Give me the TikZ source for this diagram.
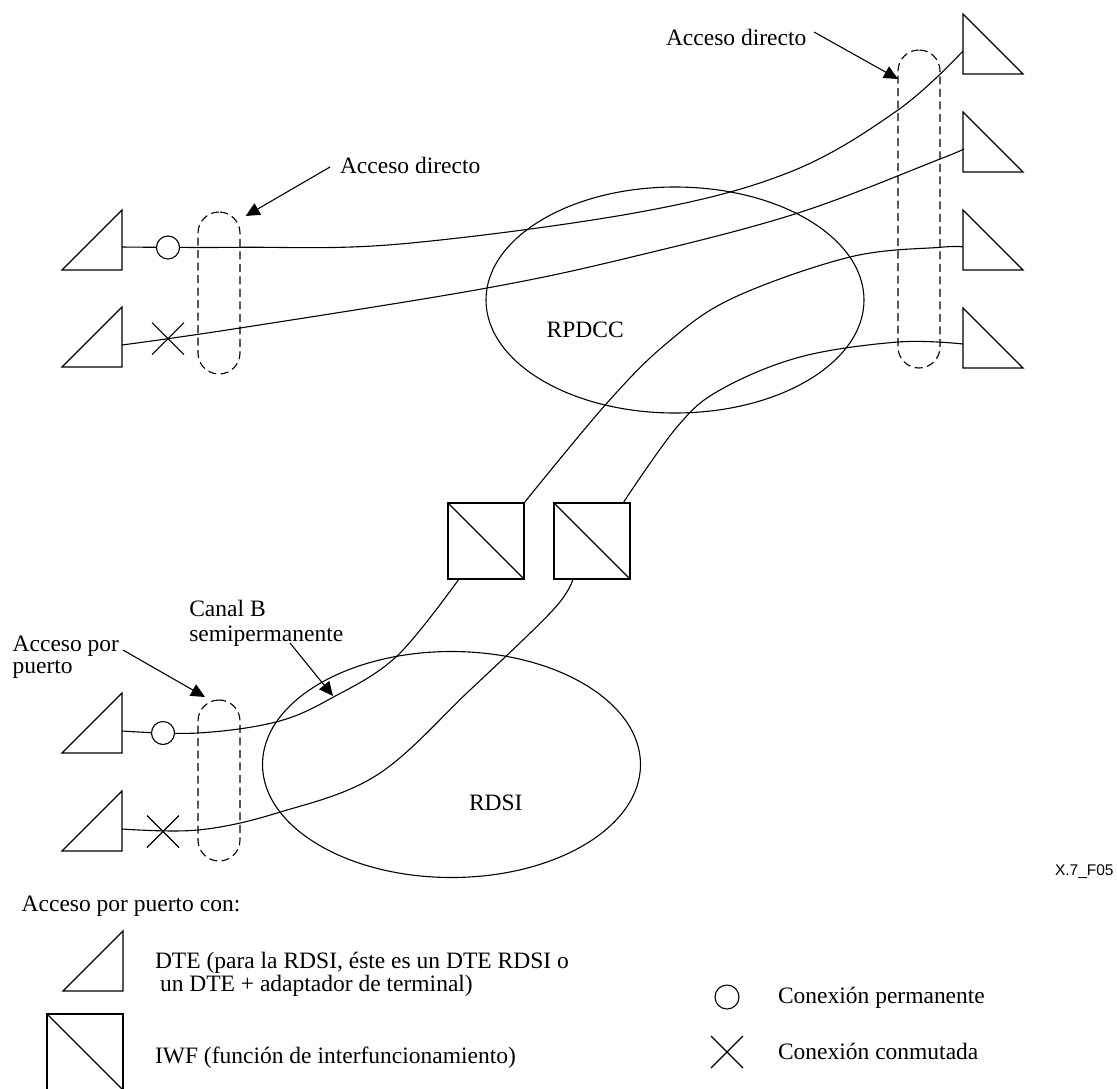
\documentclass[tikz,border=0pt]{standalone}
\usepackage{fontspec}
\setmainfont{Liberation Serif}
\newfontfamily\figsans{Liberation Sans}
\usetikzlibrary{shapes.geometric,arrows.meta}
\begin{document}
\begin{tikzpicture}[x=1pt,y=-1pt,line width=1.1pt,
  every node/.style={inner sep=0pt, outer sep=0pt},
  txt/.style={anchor=base west, font=\fontsize{23.5}{26}\selectfont},
  link/.style={line width=1.1pt},
  capsule/.style={draw, dash pattern=on 8pt off 4.5pt, rounded corners=21pt, minimum width=42pt},
  ptr/.style={line width=1.1pt, -{Triangle[length=14pt,width=13pt]}},
  net/.style={draw, ellipse, minimum width=378pt, minimum height=226pt},
  iwf/.style={draw, rectangle, minimum size=76pt},
  perm/.style={draw, circle, fill=white, minimum size=23pt},
  dtel/.pic={\draw (0,0) -- (-60,60) -- (0,60) -- cycle;},
  dter/.pic={\draw (0,0) -- (60,60) -- (0,60) -- cycle;},
  swx/.pic={\draw (-16,-16) -- (16,16) (-16,16) -- (16,-16);},
  ]
\useasboundingbox (0,0) rectangle (1117,1088);

% networks
\node[net] (rpdcc) at (675,300) {};
\node[net] (rdsi) at (451.5,764.5) {};
\node[txt] (rpdccl) at (546.7,337.3) {RPDCC};
\node[txt] (rdsil) at (469,810) {RDSI};

% IWF boxes
\node[iwf] (iwf1) at (486,541) {};
\node[iwf] (iwf2) at (592,541) {};
\draw (iwf1.north west) -- (iwf1.south east);
\draw (iwf2.north west) -- (iwf2.south east);

% DTE triangles
\pic at (122,210) {dtel};
\pic at (122,307) {dtel};
\pic at (122,693) {dtel};
\pic at (122,791) {dtel};
\pic at (963,14) {dter};
\pic at (963,112) {dter};
\pic at (963,210) {dter};
\pic at (963,308) {dter};

\coordinate (L1) at (122,247);
\coordinate (L2) at (122,345);
\coordinate (L3) at (122,731);
\coordinate (L4) at (122,829);
\coordinate (R1) at (963,51);
\coordinate (R2) at (963,149);
\coordinate (R3) at (963,247);
\coordinate (R4) at (963,344);

% connections
\draw[link] plot[smooth,tension=0.6] coordinates {(L1) (240,247.3) (400,244) (640,212) (790,172) (898,110) (R1)};
\draw[link] plot[smooth,tension=0.6] coordinates {(L2) (240,328) (487,288) (640,255) (798,213) (940,159) (R2)};
\draw[link] plot[smooth,tension=0.6] coordinates {(iwf1.north east) (607,403) (667,343) (733,298) (850,257) (940,247.3) (R3)};
\draw[link] plot[smooth,tension=0.6] coordinates {([xshift=-7pt]iwf2.north east) (677,427) (720,390) (800,357) (898,342) (R4)};
\draw[link] plot[smooth,tension=0.6] coordinates {(L3) (198,733) (277,721.7) (333,697.3) (397,656) ([xshift=11pt]iwf1.south west)};
\draw[link] plot[smooth,tension=0.6] coordinates {(L4) (198,830) (277,813) (377,775) (470,690) (553,610) ([xshift=19pt]iwf2.south west)};

% connection marks
\node[perm] (p1) at (168,247.5) {};
\node[perm] (p2) at (163,733) {};
\pic at (168,338.7) {swx};
\pic at (163,831.5) {swx};

% access capsules
\node[capsule, minimum height=162pt] (capA) at (219,293) {};
\node[capsule, minimum height=318pt] (capB) at (919,209) {};
\node[capsule, minimum height=161pt] (capC) at (219,780.5) {};

% labels with pointers
\node[txt] (adl) at (340,173) {Acceso directo};
\coordinate (adlfrom) at (330,167);
\coordinate (adlto) at (245.7,216);
\draw[ptr] (adlfrom) -- (adlto);

\node[txt] (adr) at (666,45) {Acceso directo};
\coordinate (adrfrom) at (814,32);
\coordinate (adrto) at (898,79);
\draw[ptr] (adrfrom) -- (adrto);

\node[txt] (app1) at (12.7,651.7) {Acceso por};
\node[txt] (app2) at (12.7,673.5) {puerto};
\coordinate (appfrom) at (123,650);
\coordinate (appto) at (205,697);
\draw[ptr] (appfrom) -- (appto);

\node[txt] (cb1) at (189.3,616.7) {Canal B};
\node[txt] (cb2) at (189.3,641) {semipermanente};
\coordinate (cbfrom) at (290,643);
\coordinate (cbto) at (333,696);
\draw[ptr] (cbfrom) -- (cbto);

\node[anchor=base west, font=\figsans\fontsize{15.5}{18}\selectfont] (fig) at (1055,875) {X.7\_F05};

% legend
\node[txt] (leg) at (21.7,911.7) {Acceso por puerto con:};
\pic at (123,931) {dtel};
\node[txt] (legdte1) at (155,968) {DTE (para la RDSI, éste es un DTE RDSI o};
\node[txt] (legdte2) at (160,991) {un DTE + adaptador de terminal)};
\node[iwf, anchor=north west] (iwfleg) at (47,1014) {};
\draw (iwfleg.north west) -- (iwfleg.south east);
\node[txt] (legiwf) at (155,1063) {IWF (función de interfuncionamiento)};
\node[perm, minimum size=24pt] (permleg) at (727,997) {};
\node[txt] (legperm) at (778,1003) {Conexión permanente};
\pic at (727,1052) {swx};
\node[txt] (legsw) at (778,1059) {Conexión conmutada};
\end{tikzpicture}
\end{document}
